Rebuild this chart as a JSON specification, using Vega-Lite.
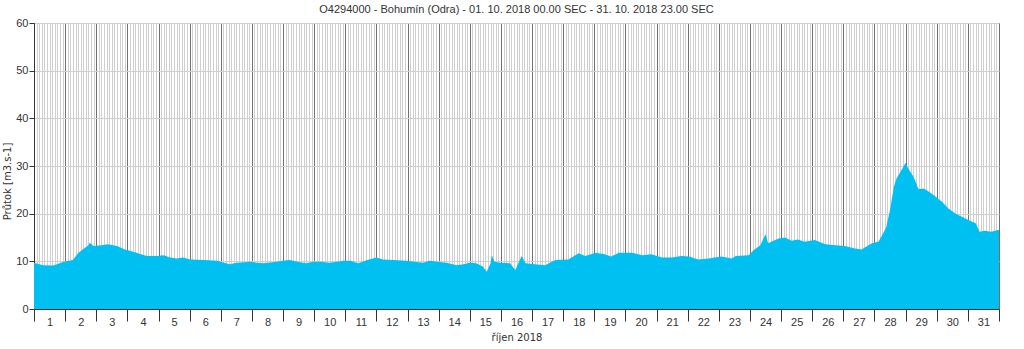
{
  "$schema": "https://vega.github.io/schema/vega-lite/v6.json",
  "width": 965,
  "height": 286,
  "autosize": {"type": "none"},
  "padding": {"left": 34, "top": 23, "right": 25, "bottom": 40},
  "background": "white",
  "title": {
    "text": "O4294000 - Bohumín (Odra) - 01. 10. 2018 00.00 SEC - 31. 10. 2018 23.00 SEC",
    "font": "Liberation Sans",
    "fontSize": 11,
    "fontWeight": "normal",
    "color": "#333333",
    "anchor": "middle",
    "offset": 2
  },
  "config": {
    "view": {"stroke": "#555555", "strokeWidth": 1},
    "axis": {"labelFont": "Liberation Sans", "labelFontSize": 11, "labelColor": "#333333", "titleFont": "DejaVu Sans", "titleFontSize": 10, "titleFontWeight": "normal", "titleColor": "#333333"}
  },
  "data": {
    "values": [
      {"h": 0, "q": 9.7}, {"h": 7, "q": 9.2}, {"h": 15, "q": 9.1}, {"h": 23, "q": 9.9},
      {"h": 30, "q": 10.3}, {"h": 34, "q": 11.7}, {"h": 37, "q": 12.4}, {"h": 42, "q": 13.4},
      {"h": 43, "q": 13.9}, {"h": 46, "q": 13.2}, {"h": 52, "q": 13.4}, {"h": 57, "q": 13.6},
      {"h": 64, "q": 13.2}, {"h": 70, "q": 12.5}, {"h": 74, "q": 12.2}, {"h": 79, "q": 11.8},
      {"h": 87, "q": 11.1}, {"h": 95, "q": 11.1}, {"h": 100, "q": 11.3}, {"h": 105, "q": 10.8},
      {"h": 110, "q": 10.6}, {"h": 115, "q": 10.8}, {"h": 120, "q": 10.4}, {"h": 131, "q": 10.3},
      {"h": 141, "q": 10.1}, {"h": 151, "q": 9.4}, {"h": 156, "q": 9.7}, {"h": 167, "q": 9.9},
      {"h": 172, "q": 9.7}, {"h": 177, "q": 9.6}, {"h": 187, "q": 9.9}, {"h": 192, "q": 10.1},
      {"h": 197, "q": 10.3}, {"h": 203, "q": 9.9}, {"h": 210, "q": 9.6}, {"h": 215, "q": 9.9},
      {"h": 221, "q": 9.9}, {"h": 228, "q": 9.7}, {"h": 239, "q": 10.1}, {"h": 244, "q": 10.1},
      {"h": 250, "q": 9.6}, {"h": 257, "q": 10.3}, {"h": 264, "q": 10.8}, {"h": 269, "q": 10.4},
      {"h": 277, "q": 10.3}, {"h": 287, "q": 10.1}, {"h": 293, "q": 9.9}, {"h": 300, "q": 9.7},
      {"h": 305, "q": 10.1}, {"h": 311, "q": 9.9}, {"h": 318, "q": 9.7}, {"h": 326, "q": 9.2},
      {"h": 331, "q": 9.4}, {"h": 336, "q": 9.7}, {"h": 341, "q": 9.6}, {"h": 346, "q": 8.9},
      {"h": 349, "q": 7.8}, {"h": 352, "q": 9.6}, {"h": 353, "q": 11.3}, {"h": 355, "q": 9.9},
      {"h": 360, "q": 9.7}, {"h": 367, "q": 9.6}, {"h": 371, "q": 8.2}, {"h": 376, "q": 11.1},
      {"h": 379, "q": 9.6}, {"h": 386, "q": 9.4}, {"h": 394, "q": 9.2}, {"h": 402, "q": 10.3},
      {"h": 412, "q": 10.4}, {"h": 420, "q": 11.7}, {"h": 425, "q": 11.1}, {"h": 433, "q": 11.8},
      {"h": 440, "q": 11.5}, {"h": 445, "q": 11.0}, {"h": 451, "q": 11.8}, {"h": 461, "q": 11.8},
      {"h": 469, "q": 11.3}, {"h": 476, "q": 11.5}, {"h": 484, "q": 10.8}, {"h": 492, "q": 10.8},
      {"h": 499, "q": 11.1}, {"h": 505, "q": 11.0}, {"h": 512, "q": 10.4}, {"h": 520, "q": 10.6},
      {"h": 530, "q": 11.0}, {"h": 538, "q": 10.6}, {"h": 541, "q": 11.1}, {"h": 551, "q": 11.3},
      {"h": 555, "q": 12.4}, {"h": 560, "q": 13.4}, {"h": 564, "q": 15.7}, {"h": 566, "q": 13.8},
      {"h": 574, "q": 14.8}, {"h": 579, "q": 15.0}, {"h": 584, "q": 14.3}, {"h": 589, "q": 14.6},
      {"h": 594, "q": 14.1}, {"h": 602, "q": 14.5}, {"h": 610, "q": 13.6}, {"h": 618, "q": 13.4},
      {"h": 625, "q": 13.2}, {"h": 633, "q": 12.7}, {"h": 638, "q": 12.5}, {"h": 646, "q": 13.8},
      {"h": 651, "q": 14.1}, {"h": 654, "q": 15.5}, {"h": 657, "q": 17.1}, {"h": 660, "q": 20.8},
      {"h": 663, "q": 25.7}, {"h": 665, "q": 27.4}, {"h": 669, "q": 29.2}, {"h": 672, "q": 30.7},
      {"h": 674, "q": 29.5}, {"h": 678, "q": 27.8}, {"h": 682, "q": 25.1}, {"h": 686, "q": 25.3},
      {"h": 690, "q": 24.6}, {"h": 695, "q": 23.6}, {"h": 700, "q": 22.5}, {"h": 705, "q": 21.1},
      {"h": 710, "q": 20.1}, {"h": 715, "q": 19.4}, {"h": 720, "q": 18.7}, {"h": 726, "q": 18.0},
      {"h": 729, "q": 16.2}, {"h": 733, "q": 16.4}, {"h": 738, "q": 16.2}, {"h": 744, "q": 16.6}
    ]
  },
  "mark": {"type": "area", "color": "#00C0F2", "interpolate": "linear", "opacity": 1},
  "encoding": {
    "x": {
      "field": "h",
      "type": "quantitative",
      "scale": {"domain": [0, 744], "nice": false, "zero": false},
      "axis": {
        "tickCount": 372,
        "grid": true,
        "gridColor": {"condition": {"test": "datum.value % 24 === 0", "value": "#707070"}, "value": "#cfcfcf"},
        "gridWidth": 1,
        "gridOpacity": 1,
        "ticks": true,
        "tickSize": 12,
        "tickColor": "#333333",
        "tickOpacity": {"condition": {"test": "datum.value % 24 === 0", "value": 1}, "value": 0},
        "labelExpr": "datum.value % 24 === 12 ? '' + ((datum.value - 12) / 24 + 1) : ''",
        "labelOverlap": false,
        "labelFlush": false,
        "labelBound": false,
        "labelPadding": -5,
        "labelAngle": 0,
        "domainColor": "#333333",
        "title": "říjen 2018",
        "titlePadding": 5
      }
    },
    "y": {
      "field": "q",
      "type": "quantitative",
      "scale": {"domain": [0, 60], "nice": false},
      "axis": {
        "values": [0, 10, 20, 30, 40, 50, 60],
        "grid": true,
        "gridColor": "#cfcfcf",
        "tickSize": 5,
        "tickColor": "#333333",
        "labelPadding": 1,
        "domainColor": "#333333",
        "title": "Průtok [m3.s-1]",
        "titlePadding": 3,
        "titleY": 158
      }
    }
  }
}
